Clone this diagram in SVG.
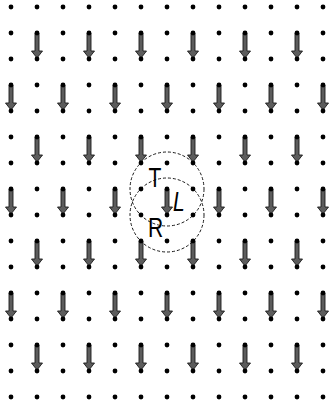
<svg xmlns="http://www.w3.org/2000/svg" xmlns:xlink="http://www.w3.org/1999/xlink" width="330" height="406" viewBox="0 0 330 406">
<style>
.arr{fill:#5c5c5c;stroke:#1a1a1a;stroke-width:0.9;stroke-linejoin:miter}
.dot{fill:#000}
.loop{fill:none;stroke:#000;stroke-width:0.9;stroke-dasharray:3 2}
.lbl{font-family:"Liberation Sans",Arial,sans-serif;font-size:27px;fill:#000}
</style>
<defs>
<path id="a" class="arr" d="M-2,0 L2,0 L2,18 L5.5,18 L0,25 L-5.5,18 L-2,18 Z"/>
<g id="row">
<circle class="dot" cx="11" cy="0" r="2.4"/><circle class="dot" cx="37" cy="0" r="2.4"/><circle class="dot" cx="63" cy="0" r="2.4"/><circle class="dot" cx="89" cy="0" r="2.4"/><circle class="dot" cx="115" cy="0" r="2.4"/><circle class="dot" cx="141" cy="0" r="2.4"/><circle class="dot" cx="167" cy="0" r="2.4"/><circle class="dot" cx="193" cy="0" r="2.4"/><circle class="dot" cx="219" cy="0" r="2.4"/><circle class="dot" cx="245" cy="0" r="2.4"/><circle class="dot" cx="271" cy="0" r="2.4"/><circle class="dot" cx="297" cy="0" r="2.4"/><circle class="dot" cx="323" cy="0" r="2.4"/>
</g>
</defs>
<rect width="330" height="406" fill="#fff"/>
<g id="connectors">
<use xlink:href="#a" x="37" y="33"/><use xlink:href="#a" x="89" y="33"/><use xlink:href="#a" x="141" y="33"/><use xlink:href="#a" x="193" y="33"/><use xlink:href="#a" x="245" y="33"/><use xlink:href="#a" x="297" y="33"/>
<use xlink:href="#a" x="11" y="85"/><use xlink:href="#a" x="63" y="85"/><use xlink:href="#a" x="115" y="85"/><use xlink:href="#a" x="167" y="85"/><use xlink:href="#a" x="219" y="85"/><use xlink:href="#a" x="271" y="85"/><use xlink:href="#a" x="323" y="85"/>
<use xlink:href="#a" x="37" y="137"/><use xlink:href="#a" x="89" y="137"/><use xlink:href="#a" x="141" y="137"/><use xlink:href="#a" x="193" y="137"/><use xlink:href="#a" x="245" y="137"/><use xlink:href="#a" x="297" y="137"/>
<use xlink:href="#a" x="11" y="189"/><use xlink:href="#a" x="63" y="189"/><use xlink:href="#a" x="115" y="189"/><use xlink:href="#a" x="167" y="189"/><use xlink:href="#a" x="219" y="189"/><use xlink:href="#a" x="271" y="189"/><use xlink:href="#a" x="323" y="189"/>
<use xlink:href="#a" x="37" y="241"/><use xlink:href="#a" x="89" y="241"/><use xlink:href="#a" x="141" y="241"/><use xlink:href="#a" x="193" y="241"/><use xlink:href="#a" x="245" y="241"/><use xlink:href="#a" x="297" y="241"/>
<use xlink:href="#a" x="11" y="293"/><use xlink:href="#a" x="63" y="293"/><use xlink:href="#a" x="115" y="293"/><use xlink:href="#a" x="167" y="293"/><use xlink:href="#a" x="219" y="293"/><use xlink:href="#a" x="271" y="293"/><use xlink:href="#a" x="323" y="293"/>
<use xlink:href="#a" x="37" y="345"/><use xlink:href="#a" x="89" y="345"/><use xlink:href="#a" x="141" y="345"/><use xlink:href="#a" x="193" y="345"/><use xlink:href="#a" x="245" y="345"/><use xlink:href="#a" x="297" y="345"/>
</g>
<g id="lattice">
<use xlink:href="#row" y="7"/><use xlink:href="#row" y="33"/><use xlink:href="#row" y="59"/><use xlink:href="#row" y="85"/>
<use xlink:href="#row" y="111"/><use xlink:href="#row" y="137"/><use xlink:href="#row" y="163"/><use xlink:href="#row" y="189"/>
<use xlink:href="#row" y="215"/><use xlink:href="#row" y="241"/><use xlink:href="#row" y="267"/><use xlink:href="#row" y="293"/>
<use xlink:href="#row" y="319"/><use xlink:href="#row" y="345"/><use xlink:href="#row" y="371"/><use xlink:href="#row" y="397"/>
</g>
<g id="loopT"><circle class="loop" cx="167" cy="189" r="37"/></g>
<g id="loopR"><circle class="loop" cx="167" cy="215" r="37"/></g>
<g id="labelT"><text class="lbl" transform="translate(148.5,187) scale(0.78,1)">T</text></g>
<g id="labelL"><text class="lbl" font-style="italic" transform="translate(173,211) scale(0.78,1)">L</text></g>
<g id="labelR"><text class="lbl" transform="translate(148,237) scale(0.78,1)">R</text></g>
</svg>
